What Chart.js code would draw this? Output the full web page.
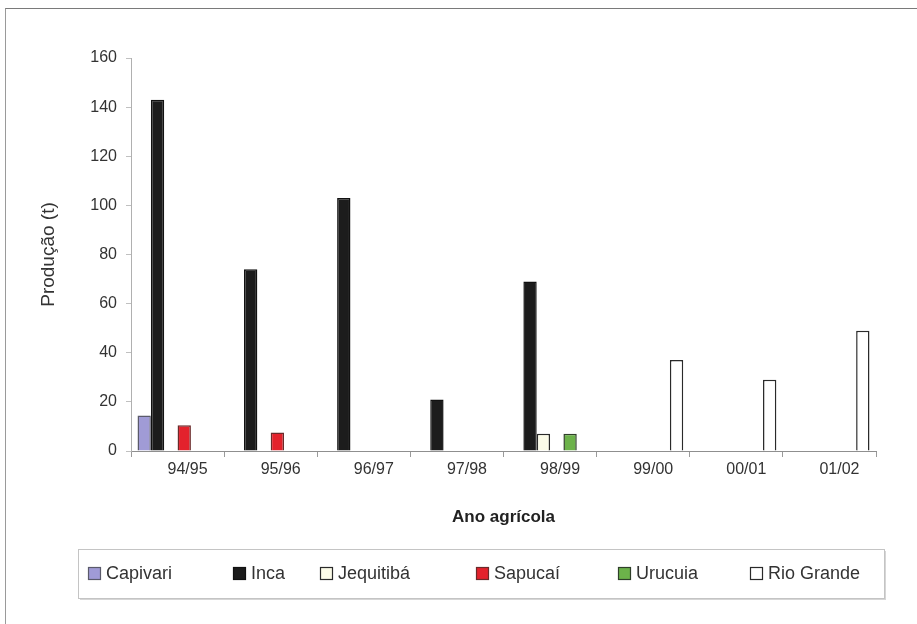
<!DOCTYPE html>
<html>
<head>
<meta charset="utf-8">
<script src="https://cdn.jsdelivr.net/npm/chart.js@4/dist/chart.umd.min.js"></script>
<style>
  html, body { margin: 0; padding: 0; background: #fff; }
  #wrap { position: relative; width: 917px; height: 624px; overflow: hidden; }
  #frame { position: absolute; left: 5px; top: 8px; width: 940px; height: 640px;
           border-top: 1px solid #7a7a7a; border-left: 1px solid #9a9a9a; pointer-events: none; }
  canvas { position: absolute; left: 0; top: 0; }
</style>
</head>
<body>
<div id="wrap">
  <canvas id="c" width="917" height="624"></canvas>
  <div id="frame"></div>
</div>
<script>
// Produção por cultivar em cada ano agrícola (t)
const safras    = ['94/95', '95/96', '96/97', '97/98', '98/99', '99/00', '00/01', '01/02'];
const capivari  = [14.5, null, null, null, null, null, null, null];
const inca      = [143, 74, 103, 21, 69, null, null, null];
const jequitiba = [null, null, null, null, 7, null, null, null];
const sapucai   = [10.5, 7.5, null, null, null, null, null, null];
const urucuia   = [null, null, null, null, 7, null, null, null];
const rioGrande = [null, null, null, null, null, 37, 29, 49];
const yTicks    = [0, 20, 40, 60, 80, 100, 120, 140, 160];

const FONT = '"Liberation Sans", Arial, sans-serif';

// Legend drawn inside a framed box below the axis
const legendBox = {
  id: 'legendBox',
  afterDraw(chart, args, opts) {
    const ctx = chart.ctx;
    const { left, top, width, height, items } = opts;
    ctx.save();
    // soft shadow then box
    ctx.fillStyle = '#d6d6d6';
    ctx.fillRect(left + 2, top + 2, width, height);
    ctx.fillStyle = '#ffffff';
    ctx.fillRect(left, top, width, height);
    ctx.strokeStyle = '#c4c4c4';
    ctx.lineWidth = 1;
    ctx.strokeRect(left + 0.5, top + 0.5, width, height);

    const cy = top + height / 2;
    ctx.font = '18px ' + FONT;
    ctx.textBaseline = 'middle';
    ctx.textAlign = 'left';
    chart.data.datasets.forEach((ds, i) => {
      const x = items[i];
      const s = 13;
      ctx.fillStyle = ds.backgroundColor;
      ctx.fillRect(x, cy - s / 2, s, s);
      ctx.strokeStyle = ds.borderColor;
      ctx.lineWidth = 1.2;
      ctx.strokeRect(x + 0.5, cy - s / 2 + 0.5, s - 1, s - 1);
      ctx.fillStyle = '#333';
      ctx.fillText(ds.label, x + s + 5, cy + 1);
    });
    ctx.restore();
  }
};

function series(label, data, fill, border) {
  return { label, data, backgroundColor: fill, borderColor: border, borderWidth: 1.5 };
}

new Chart(document.getElementById('c'), {
  type: 'bar',
  data: {
    labels: safras,
    datasets: [
      series('Capivari',   capivari,  '#a09bd6', '#5a5a6a'),
      series('Inca',       inca,      '#1c1c1c', '#111111'),
      series('Jequitibá',  jequitiba, '#fbfbe8', '#2a2a2a'),
      series('Sapucaí',    sapucai,   '#e3222c', '#6a2a2a'),
      series('Urucuia',    urucuia,   '#6cb24a', '#2f3f2a'),
      series('Rio Grande', rioGrande, '#ffffff', '#2a2a2a')
    ]
  },
  options: {
    responsive: false,
    animation: false,
    devicePixelRatio: 1,
    datasets: { bar: { categoryPercentage: 0.86, barPercentage: 1.0 } },
    layout: { padding: { left: 0, top: 58, right: 41, bottom: 93 } },
    plugins: {
      legend: { display: false },
      tooltip: { enabled: false },
      legendBox: { left: 78, top: 549, width: 806, height: 49, items: [88, 233, 320, 476, 618, 750] }
    },
    scales: {
      x: {
        grid: { display: true, drawOnChartArea: false, offset: true, tickLength: 6, color: '#9a9a9a' },
        border: { color: '#8f8f8f', width: 1 },
        ticks: { color: '#333', font: { family: FONT, size: 16 }, labelOffset: 10, padding: 3, maxRotation: 0 },
        title: { display: true, text: 'Ano agrícola', color: '#222',
                 font: { family: FONT, size: 17, weight: 'bold' }, padding: { top: 0, bottom: 3 } },
        afterFit(s) { s.height = 80; }
      },
      y: {
        min: 0, max: 160,
        afterBuildTicks(s) { s.ticks = yTicks.map(v => ({ value: v })); },
        grid: { display: true, drawOnChartArea: false, tickLength: 5, color: '#c0c0c0' },
        border: { color: '#b0b0b0', width: 1 },
        ticks: { color: '#333', font: { family: FONT, size: 16 }, padding: 9 },
        title: { display: true, text: 'Produção (t)', color: '#333',
                 font: { family: FONT, size: 19 }, padding: { top: 37, bottom: 0 } },
        afterFit(s) { s.width = 131; }
      }
    }
  },
  plugins: [legendBox]
});
</script>
</body>
</html>
